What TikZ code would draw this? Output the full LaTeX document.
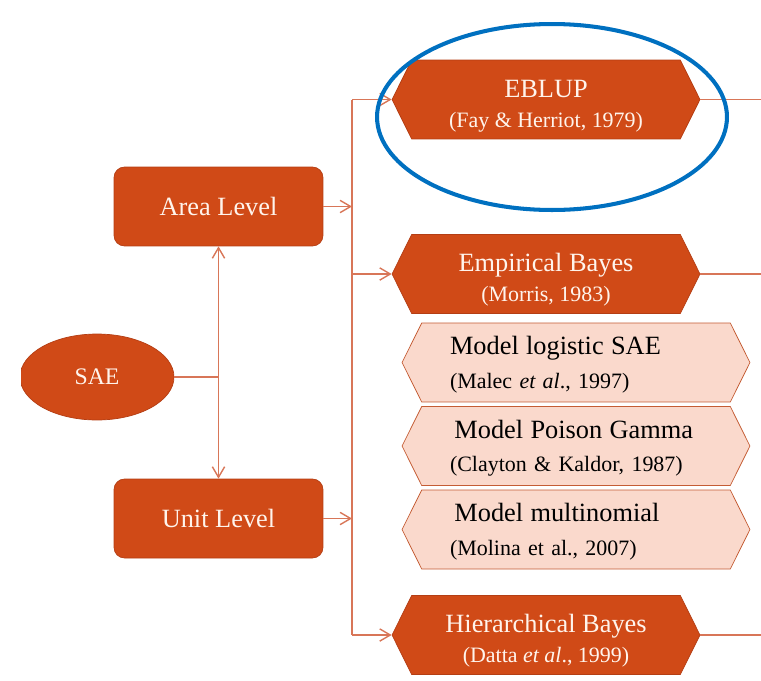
\documentclass[tikz,border=0pt]{standalone}
\usepackage{fontspec}
\setmainfont{Liberation Serif}
\usetikzlibrary{shapes.geometric}
\usetikzlibrary{shapes.symbols}
\usetikzlibrary{arrows.meta}
\definecolor{sunset}{RGB}{208,74,23}
\definecolor{sunsetedge}{RGB}{180,62,20}
\definecolor{peach}{RGB}{250,217,204}
\definecolor{peachedge}{RGB}{196,92,52}
\definecolor{wirecol}{RGB}{216,118,88}
\definecolor{ringblue}{RGB}{0,112,192}
\definecolor{cream}{RGB}{255,244,236}
\newcommand{\bigline}{\fontsize{15}{18}\selectfont}
\newcommand{\hexhead}[2]{\rule{0pt}{#1}{\bigline #2}}

\begin{document}
\begin{tikzpicture}[x=0.02cm,y=-0.02cm,
    tierbox/.style={draw=sunsetedge,fill=sunset,text=cream,rounded corners=6pt,
      minimum width=4.18cm,minimum height=1.58cm,font=\bigline},
    mainhex/.style={shape=signal,signal to=east and west,signal pointer angle=127,
      draw=sunsetedge,fill=sunset,text=cream,minimum width=6.16cm,minimum height=1.58cm,
      align=center,inner sep=0pt,font=\fontsize{12.5}{17}\selectfont},
    palehex/.style={shape=signal,signal to=east and west,signal pointer angle=127,
      draw=peachedge,fill=peach,text=black,minimum width=6.96cm,minimum height=1.58cm,
      text width=5.04cm,align=left,inner sep=0pt,font=\fontsize{12.5}{19}\selectfont},
    link/.style={draw=wirecol,line width=0.8pt},
    arr/.style={-{Straight Barb[length=6pt,width=7pt]}},
    spot/.style={draw=ringblue,line width=2.3pt}]
    \useasboundingbox (0,0) rectangle (761,680);
    % SAE, cut at the left edge
    \begin{scope}
      \clip (21,300) rectangle (200,460);
      \node[ellipse,draw=sunsetedge,fill=sunset,text=cream,minimum width=3.08cm,
        minimum height=1.72cm,font=\fontsize{13.5}{16}\selectfont] (sae) at (97,377) {SAE};
    \end{scope}
    \node[tierbox] (area) at (218.5,206.5) {Area Level};
    \node[tierbox] (unit) at (218.5,518.5) {Unit Level};
    % estimators
    \node[mainhex] (eblup) at (546,99.5) {\hexhead{17pt}{EBLUP}\\(Fay \& Herriot, 1979)};
    \node[mainhex] (eb) at (546,274) {\hexhead{17pt}{Empirical Bayes}\\(Morris, 1983)};
    \node[palehex] (mls) at (576,362.5) {\hexhead{13pt}{Model logistic SAE}\\(Malec \textit{et al}., 1997)};
    \node[palehex] (mpg) at (576,446) {\hexhead{13pt}{\,Model Poison Gamma}\\(Clayton \& Kaldor, 1987)};
    \node[palehex] (mm) at (576,529.5) {\hexhead{13pt}{\,Model multinomial}\\(Molina et al., 2007)};
    \node[mainhex] (hb) at (546,635) {\hexhead{17pt}{Hierarchical Bayes}\\(Datta \textit{et al}., 1999)};
    % connectors
    \coordinate (fork) at (218.5,377);
    \coordinate (busx) at (352,0);
    \draw[link] (sae.east) -- (fork);
    \draw[link,arr] (fork) -- (area.south);
    \draw[link,arr] (fork) -- (unit.north);
    \draw[link] (eblup.west -| busx) -- (hb.west -| busx);
    \draw[link,arr] (area.east) -- (area.east -| busx);
    \draw[link,arr] (unit.east) -- (unit.east -| busx);
    \draw[link,arr] (eblup.west -| busx) -- (eblup.west);
    \draw[link,arr] (eb.west -| busx) -- (eb.west);
    \draw[link,arr] (hb.west -| busx) -- (hb.west);
    \coordinate (eblupend) at (761,99.5);
    \coordinate (ebend) at (761,274);
    \coordinate (hbend) at (761,635);
    \draw[link] (eblup.east) -- (eblupend);
    \draw[link] (eb.east) -- (ebend);
    \draw[link] (hb.east) -- (hbend);
    % highlight
    \draw[spot] (552,117) ellipse [x radius=3.5cm, y radius=1.86cm];
\end{tikzpicture}
\end{document}
